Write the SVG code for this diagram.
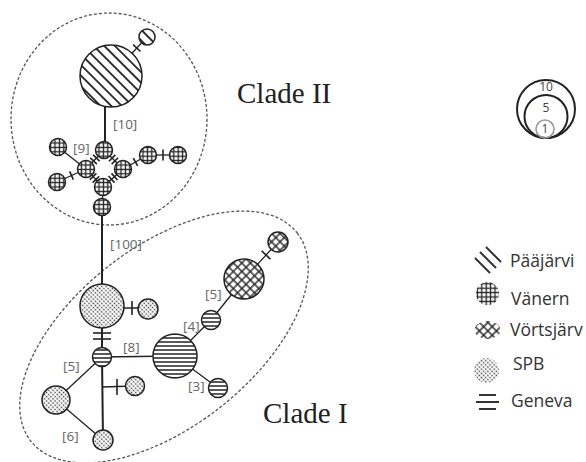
<svg xmlns="http://www.w3.org/2000/svg" width="586" height="462" viewBox="0 0 586 462">
<style>
.bg{fill:#fff}
.clade{fill:none;stroke:#555;stroke-width:1.3;stroke-dasharray:3 2}
.cl{font-family:"Liberation Serif","Times New Roman",serif;font-size:29px;fill:#222}
.e{stroke:#222;stroke-width:1.3;fill:none}
.ek{stroke:#222;stroke-width:2;fill:none}
.t{stroke:#222;stroke-width:1.6;fill:none}
.lab{font-family:"Open Sans","Liberation Sans",sans-serif;font-size:13.5px;fill:#666}
.n{stroke:#222;stroke-width:1.5}
.paa{fill:url(#pPaa)}
.van{fill:url(#pVan)}
.vor{fill:url(#pVor)}
.spb{fill:url(#pSpb)}
.gen{fill:url(#pGen)}
.leg{font-family:"Open Sans","Liberation Sans",sans-serif;font-size:17.5px;fill:#333}
.sz{fill:none;stroke:#222;stroke-width:2}
.szl{font-family:"Open Sans","Liberation Sans",sans-serif;font-size:12px;fill:#444;text-anchor:middle}
</style>
<defs>
<pattern id="pPaa" patternUnits="userSpaceOnUse" width="7.5" height="7.5" patternTransform="rotate(-45)">
<rect width="7.5" height="7.5" fill="#fff"/><line x1="3.75" y1="0" x2="3.75" y2="7.5" stroke="#222" stroke-width="1.8"/>
</pattern>
<pattern id="pVan" patternUnits="userSpaceOnUse" width="4.4" height="4.4">
<rect width="4.4" height="4.4" fill="#fff"/><line x1="2.2" y1="0" x2="2.2" y2="4.4" stroke="#222" stroke-width="1.3"/><line x1="0" y1="2.2" x2="4.4" y2="2.2" stroke="#222" stroke-width="1.3"/>
</pattern>
<pattern id="pVor" patternUnits="userSpaceOnUse" width="6" height="6" patternTransform="rotate(45)">
<rect width="6" height="6" fill="#fff"/><line x1="3" y1="0" x2="3" y2="6" stroke="#222" stroke-width="1.4"/><line x1="0" y1="3" x2="6" y2="3" stroke="#222" stroke-width="1.4"/>
</pattern>
<pattern id="pSpb" patternUnits="userSpaceOnUse" width="3" height="3" patternTransform="rotate(45)">
<rect width="3" height="3" fill="#fff"/><circle cx="1.5" cy="1.5" r="0.85" fill="#333"/>
</pattern>
<pattern id="pGen" patternUnits="userSpaceOnUse" width="4" height="4">
<rect width="4" height="4" fill="#fff"/><line x1="0" y1="2" x2="4" y2="2" stroke="#222" stroke-width="1.5"/>
</pattern>
<clipPath id="cVanL"><circle cx="487.5" cy="293.5" r="11.5"/></clipPath>
<clipPath id="cVorL"><ellipse cx="487.5" cy="330" rx="13" ry="9"/></clipPath>
</defs>
<rect class="bg" width="586" height="462"/>

<g id="clades">
<ellipse class="clade" cx="109" cy="119" rx="98" ry="106"/>
<ellipse class="clade" cx="164" cy="337" rx="169" ry="90" transform="rotate(-38 164 337)"/>
<text class="cl" x="237" y="103">Clade II</text>
<text class="cl" x="263" y="423">Clade I</text>
</g>

<g id="connectors">
<line class="e" x1="111" y1="76" x2="147" y2="37"/>
<line class="t" x1="133.1" y1="44.7" x2="140.5" y2="51.5"/>
<line class="ek" x1="105" y1="100" x2="105" y2="150"/>
<line class="e" x1="104" y1="150" x2="86" y2="169"/>
<line class="t" x1="90.3" y1="157.9" x2="96.9" y2="164.1"/>
<line class="t" x1="93.1" y1="154.9" x2="99.7" y2="161.1"/>
<line class="e" x1="104" y1="150" x2="123" y2="169"/>
<line class="t" x1="108.9" y1="161.3" x2="115.3" y2="154.9"/>
<line class="t" x1="111.7" y1="164.1" x2="118.1" y2="157.7"/>
<line class="e" x1="86" y1="169" x2="103" y2="187"/>
<line class="t" x1="89.8" y1="179.6" x2="96.4" y2="173.4"/>
<line class="t" x1="92.6" y1="182.6" x2="99.2" y2="176.4"/>
<line class="e" x1="123" y1="169" x2="103" y2="187"/>
<line class="t" x1="111.5" y1="173.4" x2="117.5" y2="180"/>
<line class="t" x1="108.5" y1="176" x2="114.5" y2="182.6"/>
<line class="e" x1="58" y1="147" x2="86" y2="169"/>
<line class="e" x1="57" y1="182" x2="86" y2="169"/>
<line class="t" x1="69.7" y1="171.4" x2="73.3" y2="179.6"/>
<line class="e" x1="123" y1="169" x2="148" y2="155"/>
<line class="t" x1="133.3" y1="158.1" x2="137.7" y2="165.9"/>
<line class="e" x1="148" y1="155" x2="178" y2="155"/>
<line class="t" x1="163" y1="149.5" x2="163" y2="160.5"/>
<line class="e" x1="103" y1="187" x2="102" y2="207"/>
<line class="ek" x1="102" y1="207" x2="102" y2="306"/>

<line class="e" x1="102" y1="308" x2="148" y2="308"/>
<line class="t" x1="132" y1="301" x2="132" y2="315"/>
<line class="ek" x1="102" y1="306" x2="102" y2="357"/>
<line class="t" x1="93" y1="333" x2="111" y2="333"/>
<line class="t" x1="93" y1="339" x2="111" y2="339"/>
<line class="e" x1="102" y1="357" x2="175" y2="356"/>
<line class="e" x1="102" y1="357" x2="56" y2="400"/>
<line class="ek" x1="102" y1="357" x2="103" y2="440"/>
<line class="e" x1="102" y1="387" x2="135" y2="386"/>
<line class="t" x1="117" y1="379" x2="117" y2="395"/>
<line class="e" x1="56" y1="400" x2="103" y2="440"/>
<line class="e" x1="175" y1="356" x2="211" y2="320"/>
<line class="e" x1="211" y1="320" x2="244" y2="279"/>
<line class="e" x1="244" y1="279" x2="278" y2="242"/>
<line class="t" x1="261.6" y1="250.9" x2="270.4" y2="259.1"/>
<line class="e" x1="175" y1="356" x2="218" y2="388"/>
</g>

<g id="labels">
<text class="lab" x="113" y="129">[10]</text>
<text class="lab" x="73" y="153">[9]</text>
<text class="lab" x="110" y="249">[100]</text>
<text class="lab" x="123" y="352">[8]</text>
<text class="lab" x="63" y="371">[5]</text>
<text class="lab" x="62" y="441">[6]</text>
<text class="lab" x="183" y="331">[4]</text>
<text class="lab" x="205" y="299">[5]</text>
<text class="lab" x="188" y="391">[3]</text>
</g>

<g id="paa-big"><circle class="n paa" cx="111" cy="76" r="31"/></g>
<g id="paa-small"><circle class="n paa" cx="147" cy="37" r="8"/></g>
<g id="van-top"><circle class="n van" cx="104" cy="150" r="8.5"/></g>
<g id="van-farleft"><circle class="n van" cx="58" cy="147" r="8.5"/></g>
<g id="van-left"><circle class="n van" cx="86" cy="169" r="8.5"/></g>
<g id="van-right"><circle class="n van" cx="123" cy="169" r="8.5"/></g>
<g id="van-r2"><circle class="n van" cx="148" cy="155" r="8.5"/></g>
<g id="van-r3"><circle class="n van" cx="178" cy="155" r="8.5"/></g>
<g id="van-botleft"><circle class="n van" cx="57" cy="182" r="8.5"/></g>
<g id="van-botcenter"><circle class="n van" cx="103" cy="187" r="8.5"/></g>
<g id="van-bottom"><circle class="n van" cx="102" cy="207" r="8.5"/></g>

<g id="spb-big"><circle class="n spb" cx="102" cy="306" r="22"/></g>
<g id="spb-right"><circle class="n spb" cx="148" cy="309" r="10"/></g>
<g id="gen-center"><circle class="n gen" cx="102" cy="357" r="9.5"/></g>
<g id="gen-big"><circle class="n gen" cx="175" cy="356" r="22"/></g>
<g id="spb-left"><circle class="n spb" cx="56" cy="400" r="14"/></g>
<g id="spb-bottom"><circle class="n spb" cx="103" cy="440" r="10"/></g>
<g id="spb-mid"><circle class="n spb" cx="135" cy="386" r="9.5"/></g>
<g id="gen-upper"><circle class="n gen" cx="211" cy="320" r="9.5"/></g>
<g id="gen-lower"><circle class="n gen" cx="218" cy="388" r="9.5"/></g>
<g id="vor-big"><circle class="n vor" cx="244" cy="279" r="20"/></g>
<g id="vor-small"><circle class="n vor" cx="278" cy="242" r="10"/></g>

<g id="size-legend">
<circle class="sz" cx="546" cy="109" r="29"/>
<circle class="sz" cx="546" cy="116.5" r="21.5"/>
<circle cx="545" cy="129" r="9" fill="none" stroke="#999" stroke-width="1.6"/>
<text class="szl" x="546" y="91">10</text>
<text class="szl" x="546" y="112">5</text>
<text class="szl" x="545" y="133">1</text>
</g>

<g id="legend">
<g stroke="#333" stroke-width="2">
<line x1="475" y1="258" x2="490" y2="273"/>
<line x1="480" y1="252" x2="496" y2="268"/>
<line x1="486" y1="247" x2="501" y2="262"/>
</g>
<text class="leg" x="510" y="267">Pääjärvi</text>
<rect x="475" y="281" width="25" height="25" fill="url(#pVan)" clip-path="url(#cVanL)"/>
<text class="leg" x="511" y="305">Vänern</text>
<rect x="473" y="320" width="30" height="20" fill="url(#pVor)" clip-path="url(#cVorL)"/>
<text class="leg" x="510" y="336">Vörtsjärv</text>
<circle cx="486.5" cy="370.5" r="12.5" fill="url(#pSpb)"/>
<text class="leg" x="513" y="370">SPB</text>
<g stroke="#333" stroke-width="2">
<line x1="479" y1="395" x2="496" y2="395"/>
<line x1="476" y1="402" x2="499" y2="402"/>
<line x1="479" y1="409" x2="496" y2="409"/>
</g>
<text class="leg" x="511" y="407">Geneva</text>
</g>
</svg>
